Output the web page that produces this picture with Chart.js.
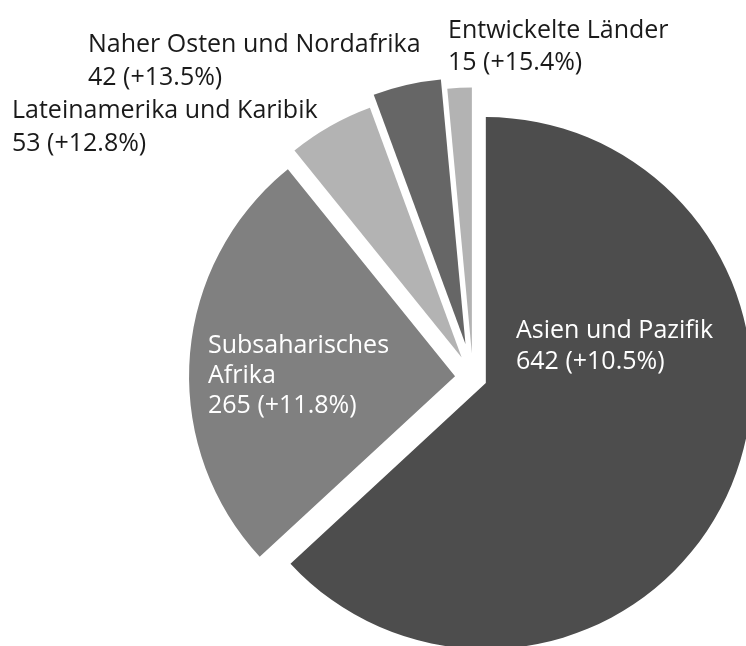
<!DOCTYPE html>
<html>
<head>
<meta charset="utf-8">
<script src="https://cdn.jsdelivr.net/npm/chart.js@4.4.1/dist/chart.umd.min.js"></script>
<style>
  html, body { margin: 0; padding: 0; background: #ffffff; }
  #wrap { width: 746px; height: 646px; position: relative; }
</style>
</head>
<body>
<div id="wrap"><canvas id="c"></canvas></div>
<script>
// ---- data ----
const categories = ['Asien und Pazifik', 'Subsaharisches Afrika', 'Lateinamerika und Karibik', 'Naher Osten und Nordafrika', 'Entwickelte Länder'];
const values = [642, 265, 53, 42, 15];
const changes = ['+10.5%', '+11.8%', '+12.8%', '+13.5%', '+15.4%'];

// ---- styling ----
const sliceColors = ['#4d4d4d', '#808080', '#b3b3b3', '#666666', '#b3b3b3'];
const sliceOffsets = [14, 18, 23, 34, 24];
const labelLayout = [
  { x: 516, y: 338, lh: 31, color: '#ffffff', wrap: false },
  { x: 208, y: 353, lh: 30, color: '#ffffff', wrap: true },
  { x: 12,  y: 118, lh: 33, color: '#1a1a1a', wrap: false },
  { x: 88,  y: 52,  lh: 33, color: '#1a1a1a', wrap: false },
  { x: 448, y: 38,  lh: 32, color: '#1a1a1a', wrap: false }
];

// exploded slice drawing: shift each sector along its mid-angle by its offset
Chart.ArcElement.prototype.draw = function (ctx) {
  const o = this.options;
  const p = this.getProps(['x', 'y', 'startAngle', 'endAngle', 'outerRadius']);
  const mid = (p.startAngle + p.endAngle) / 2;
  const off = o.offset || 0;
  ctx.save();
  ctx.translate(Math.cos(mid) * off, Math.sin(mid) * off);
  ctx.beginPath();
  ctx.moveTo(p.x, p.y);
  ctx.arc(p.x, p.y, p.outerRadius, p.startAngle, p.endAngle);
  ctx.closePath();
  ctx.fillStyle = o.backgroundColor;
  ctx.fill();
  ctx.restore();
};

const labelPlugin = {
  id: 'sliceLabels',
  afterDatasetsDraw(chart) {
    const ctx = chart.ctx;
    ctx.save();
    ctx.font = '25px "Open Sans"';
    ctx.textBaseline = 'alphabetic';
    ctx.textAlign = 'left';
    labelLayout.forEach((L, i) => {
      const name = L.wrap ? categories[i].split(' ') : [categories[i]];
      const lines = name.concat([values[i] + ' (' + changes[i] + ')']);
      ctx.fillStyle = L.color;
      lines.forEach((t, k) => ctx.fillText(t, L.x, L.y + k * L.lh));
    });
    ctx.restore();
  }
};

new Chart(document.getElementById('c'), {
  type: 'pie',
  data: {
    labels: categories,
    datasets: [{
      data: values,
      backgroundColor: sliceColors,
      offset: sliceOffsets,
      hoverOffset: 0,
      borderWidth: 0,
      clip: false
    }]
  },
  options: {
    responsive: true,
    maintainAspectRatio: false,
    animation: false,
    events: [],
    radius: 266,
    layout: { padding: { left: 200, right: 0, top: 109, bottom: 0 } },
    plugins: { legend: { display: false }, tooltip: { enabled: false } }
  },
  plugins: [labelPlugin]
});
</script>
</body>
</html>
